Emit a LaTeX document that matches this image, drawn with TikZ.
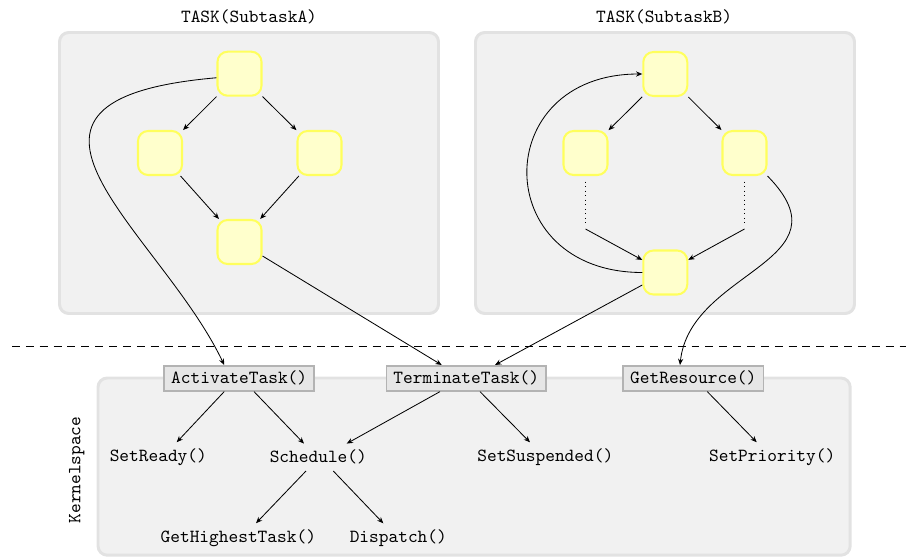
\documentclass[tikz,border=0pt]{standalone}
\usetikzlibrary{arrows.meta}
\definecolor{taskfill}{HTML}{F1F1F1}
\definecolor{taskborder}{HTML}{E2E2E2}
\definecolor{subfill}{HTML}{FFFFCC}
\definecolor{subborder}{HTML}{FFFF5C}
\definecolor{fnfill}{HTML}{E6E6E6}
\definecolor{fnborder}{HTML}{B3B3B3}
\begin{document}
\begin{tikzpicture}[x=0.5408pt,y=-0.5408pt,
  >={Stealth[length=3.4pt,width=2.8pt]},
  taskbox/.style={draw=taskborder, line width=1.6pt, fill=taskfill, rounded corners=5pt},
  sub/.style={draw=subborder, fill=subfill, line width=1.1pt, rounded corners=5.5pt,
    minimum width=23.8pt, minimum height=23.8pt, inner sep=0pt},
  fn/.style={draw=fnborder, fill=fnfill, line width=0.9pt, font=\ttfamily,
    inner xsep=3.8pt, inner ysep=0pt, minimum height=13.5pt},
  call/.style={font=\ttfamily},
  title/.style={font=\ttfamily},
  conn/.style={->, line width=0.45pt}
]
\useasboundingbox (0,0) rectangle (906,558);
% containers
\draw[taskbox] (59.5,32.5) rectangle (438.5,313.5);
\draw[taskbox] (475.5,32.5) rectangle (854.5,313.5);
\draw[taskbox] (98,378) rectangle (850.2,555.2);
% titles
\node[title] (titA) at (249,16.5) {TASK(SubtaskA)};
\node[title] (titB) at (664.2,16.5) {TASK(SubtaskB)};
\node[title, rotate=90] (ks) at (76.7,470) {Kernelspace};
% subtask A
\node[sub] (tA) at (239.5,73.7) {};
\node[sub] (lA) at (160,153) {};
\node[sub] (rA) at (319.5,153) {};
\node[sub] (bA) at (239.5,242) {};
% subtask B
\node[sub] (tB) at (665.3,74) {};
\node[sub] (lB) at (585.5,153) {};
\node[sub] (rB) at (744.5,153) {};
\node[sub] (bB) at (665.3,272.5) {};
\coordinate (dl) at (585.5,222.5);
\coordinate (al) at (585.5,229);
\coordinate (dr) at (744.5,222.5);
\coordinate (ar) at (744.5,229);
% dashed separator
\draw[dash pattern=on 4.3pt off 3.2pt, line width=0.45pt] (12,346.7) -- (906,346.7);
% kernel functions
\node[fn] (AT) at (239.2,378.3) {ActivateTask()};
\node[fn] (TT) at (466.3,378.3) {TerminateTask()};
\node[fn] (GR) at (693.3,378.3) {GetResource()};
\node[call] (SR) at (158.3,457.3) {SetReady()};
\node[call] (Sch) at (318.3,457.3) {Schedule()};
\node[call] (SS) at (545.3,457.3) {SetSuspended()};
\node[call] (SP) at (772.2,457.3) {SetPriority()};
\node[call] (GH) at (238.3,538.3) {GetHighestTask()};
\node[call] (Di) at (398.3,538.3) {Dispatch()};
% connectors A
\draw[conn] (tA) -- (lA);
\draw[conn] (tA) -- (rA);
\draw[conn] (lA) -- (bA);
\draw[conn] (rA) -- (bA);
% connectors B
\draw[conn] (tB) -- (lB);
\draw[conn] (tB) -- (rB);
\draw[dotted, line width=0.45pt, shorten <=3pt] (lB.south) -- (dl);
\draw[dotted, line width=0.45pt, shorten <=3pt] (rB.south) -- (dr);
\draw[conn] (al) -- (bB);
\draw[conn] (ar) -- (bB);
\draw[conn] (bB.west) .. controls (489,272.5) and (489,74) .. (tB.west);
% user to kernel
\draw[conn] (tA.190) .. controls (-40,100) and (160,230) .. ([shift={(-15,0)}]AT.north);
\draw[conn] (bA) -- ([shift={(-24.6,0)}]TT.north);
\draw[conn] (bB) -- ([shift={(28.7,0)}]TT.north);
\draw[conn] (rB.south east) .. controls (852,262) and (690,270) .. ([shift={(-13.3,0)}]GR.north);
% kernel calls
\draw[conn] ([shift={(-15,0)}]AT.south) -- ([shift={(18.4,0)}]SR.north);
\draw[conn] ([shift={(14.8,0)}]AT.south) -- ([shift={(-14.3,0)}]Sch.north);
\draw[conn] ([shift={(-26.3,0)}]TT.south) -- ([shift={(28.4,0)}]Sch.north);
\draw[conn] ([shift={(13.7,0)}]TT.south) -- ([shift={(-15.3,0)}]SS.north);
\draw[conn] ([shift={(14,0)}]GR.south) -- ([shift={(-15.5,0)}]SP.north);
\draw[conn] ([shift={(-12.3,0)}]Sch.south) -- ([shift={(17.7,0)}]GH.north);
\draw[conn] ([shift={(15,0)}]Sch.south) -- ([shift={(-15,0)}]Di.north);
\end{tikzpicture}
\end{document}
